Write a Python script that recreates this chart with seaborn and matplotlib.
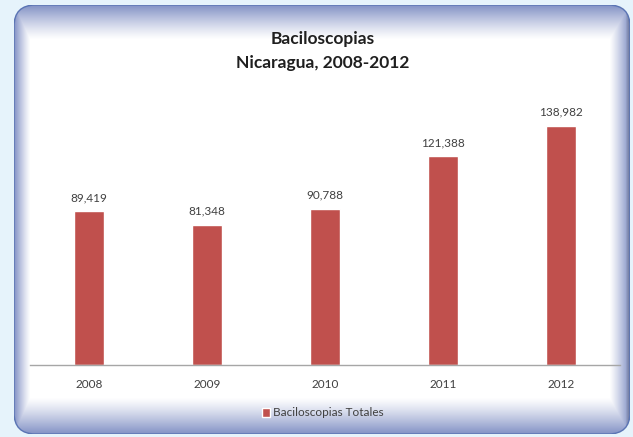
import numpy as np
import pandas as pd
import matplotlib
matplotlib.use("Agg")
import matplotlib.pyplot as plt
import seaborn as sns
from matplotlib.patches import FancyBboxPatch

years = ["2008", "2009", "2010", "2011", "2012"]
values = [89419, 81348, 90788, 121388, 138982]
series_name = "Baciloscopias Totales"
title_line1 = "Baciloscopias"
title_line2 = "Nicaragua, 2008-2012"

df = pd.DataFrame({"Año": years, "Valor": values})

sns.set_theme(style="white")
plt.rcParams["font.family"] = ["Lato", "DejaVu Sans"]

W, H = 633, 437
fig = plt.figure(figsize=(W / 100, H / 100), dpi=100)
fig.patch.set_facecolor("#E6F3FB")

# ---- decorative panel with soft blue gradient edges ----
px0, py0, px1, py1 = 14, 5, 630, 434  # pixel coords (top-left origin)
pax = fig.add_axes([px0 / W, 1 - py1 / H, (px1 - px0) / W, (py1 - py0) / H])
pax.set_axis_off()
pw, ph = px1 - px0, py1 - py0
yy, xx = np.mgrid[0:ph, 0:pw]
t_top = np.clip(1 - yy / 34.0, 0, 1)
t_bot = np.clip(1 - (ph - 1 - yy) / 36.0, 0, 1)
t_left = np.clip(1 - xx / 16.0, 0, 1)
t_right = np.clip(1 - (pw - 1 - xx) / 20.0, 0, 1)
t = np.maximum.reduce([t_top, t_bot, t_left, t_right]) ** 1.2
edge = np.array([0x84, 0x93, 0xC6]) / 255.0
img = (1 - t[..., None]) * 1.0 + t[..., None] * edge
# darker shade along the right edge
shade = np.clip(1 - (pw - 1 - xx) / 4.0, 0, 1)[..., None] * 0.45
img = img * (1 - shade) + shade * np.array([0.35, 0.36, 0.42])
im = pax.imshow(img, extent=[0, 1, 0, 1], aspect="auto", interpolation="bilinear")
clip = FancyBboxPatch((0.0, 0.0), 1.0, 1.0, boxstyle="round,pad=0,rounding_size=0.035",
                      transform=pax.transAxes, facecolor="none", edgecolor="none",
                      mutation_aspect=pw / ph)
pax.add_patch(clip)
im.set_clip_path(clip)
border = FancyBboxPatch((0.0, 0.0), 1.0, 1.0, boxstyle="round,pad=0,rounding_size=0.035",
                        transform=pax.transAxes, facecolor="none", edgecolor="#5A74B4",
                        linewidth=1.0, mutation_aspect=pw / ph)
pax.add_patch(border)
pax.set_xlim(0, 1)
pax.set_ylim(0, 1)

# ---- main chart ----
ax = fig.add_axes([30 / W, 1 - 365 / H, 590 / W, 275 / H])
ax.patch.set_alpha(0)
sns.barplot(data=df, x="Año", y="Valor", color="#C0504D", width=0.25,
            ax=ax, label=series_name, saturation=1)
ax.set_xlim(-0.5, 4.5)
ax.set_ylim(0, 160000)
for c in ax.containers:
    ax.bar_label(c, labels=[f"{v:,}" for v in values], padding=6,
                 fontsize=8.5, color="#404040")
ax.set_xlabel("")
ax.set_ylabel("")
ax.set_yticks([])
ax.tick_params(axis="x", length=0, pad=10, labelsize=8.5, labelcolor="#404040")
for s in ["top", "left", "right"]:
    ax.spines[s].set_visible(False)
ax.spines["bottom"].set_color("#A6A6A6")
ax.spines["bottom"].set_linewidth(1.0)
if ax.get_legend() is not None:
    ax.get_legend().remove()

handles, labels = ax.get_legend_handles_labels()
fig.legend(handles, labels, loc="center", bbox_to_anchor=(0.51, 1 - 413 / H),
           frameon=False, fontsize=8.5, handlelength=0.7, handleheight=0.7,
           handletextpad=0.3, labelcolor="#404040")

fig.text(0.510, 1 - 39 / H, title_line1, ha="center", va="center",
         fontsize=12.5, fontweight="bold", color="#1F1F1F")
fig.text(0.510, 1 - 63 / H, title_line2, ha="center", va="center",
         fontsize=12.5, fontweight="bold", color="#1F1F1F")

fig.savefig("out.png", dpi=100, facecolor=fig.get_facecolor())
